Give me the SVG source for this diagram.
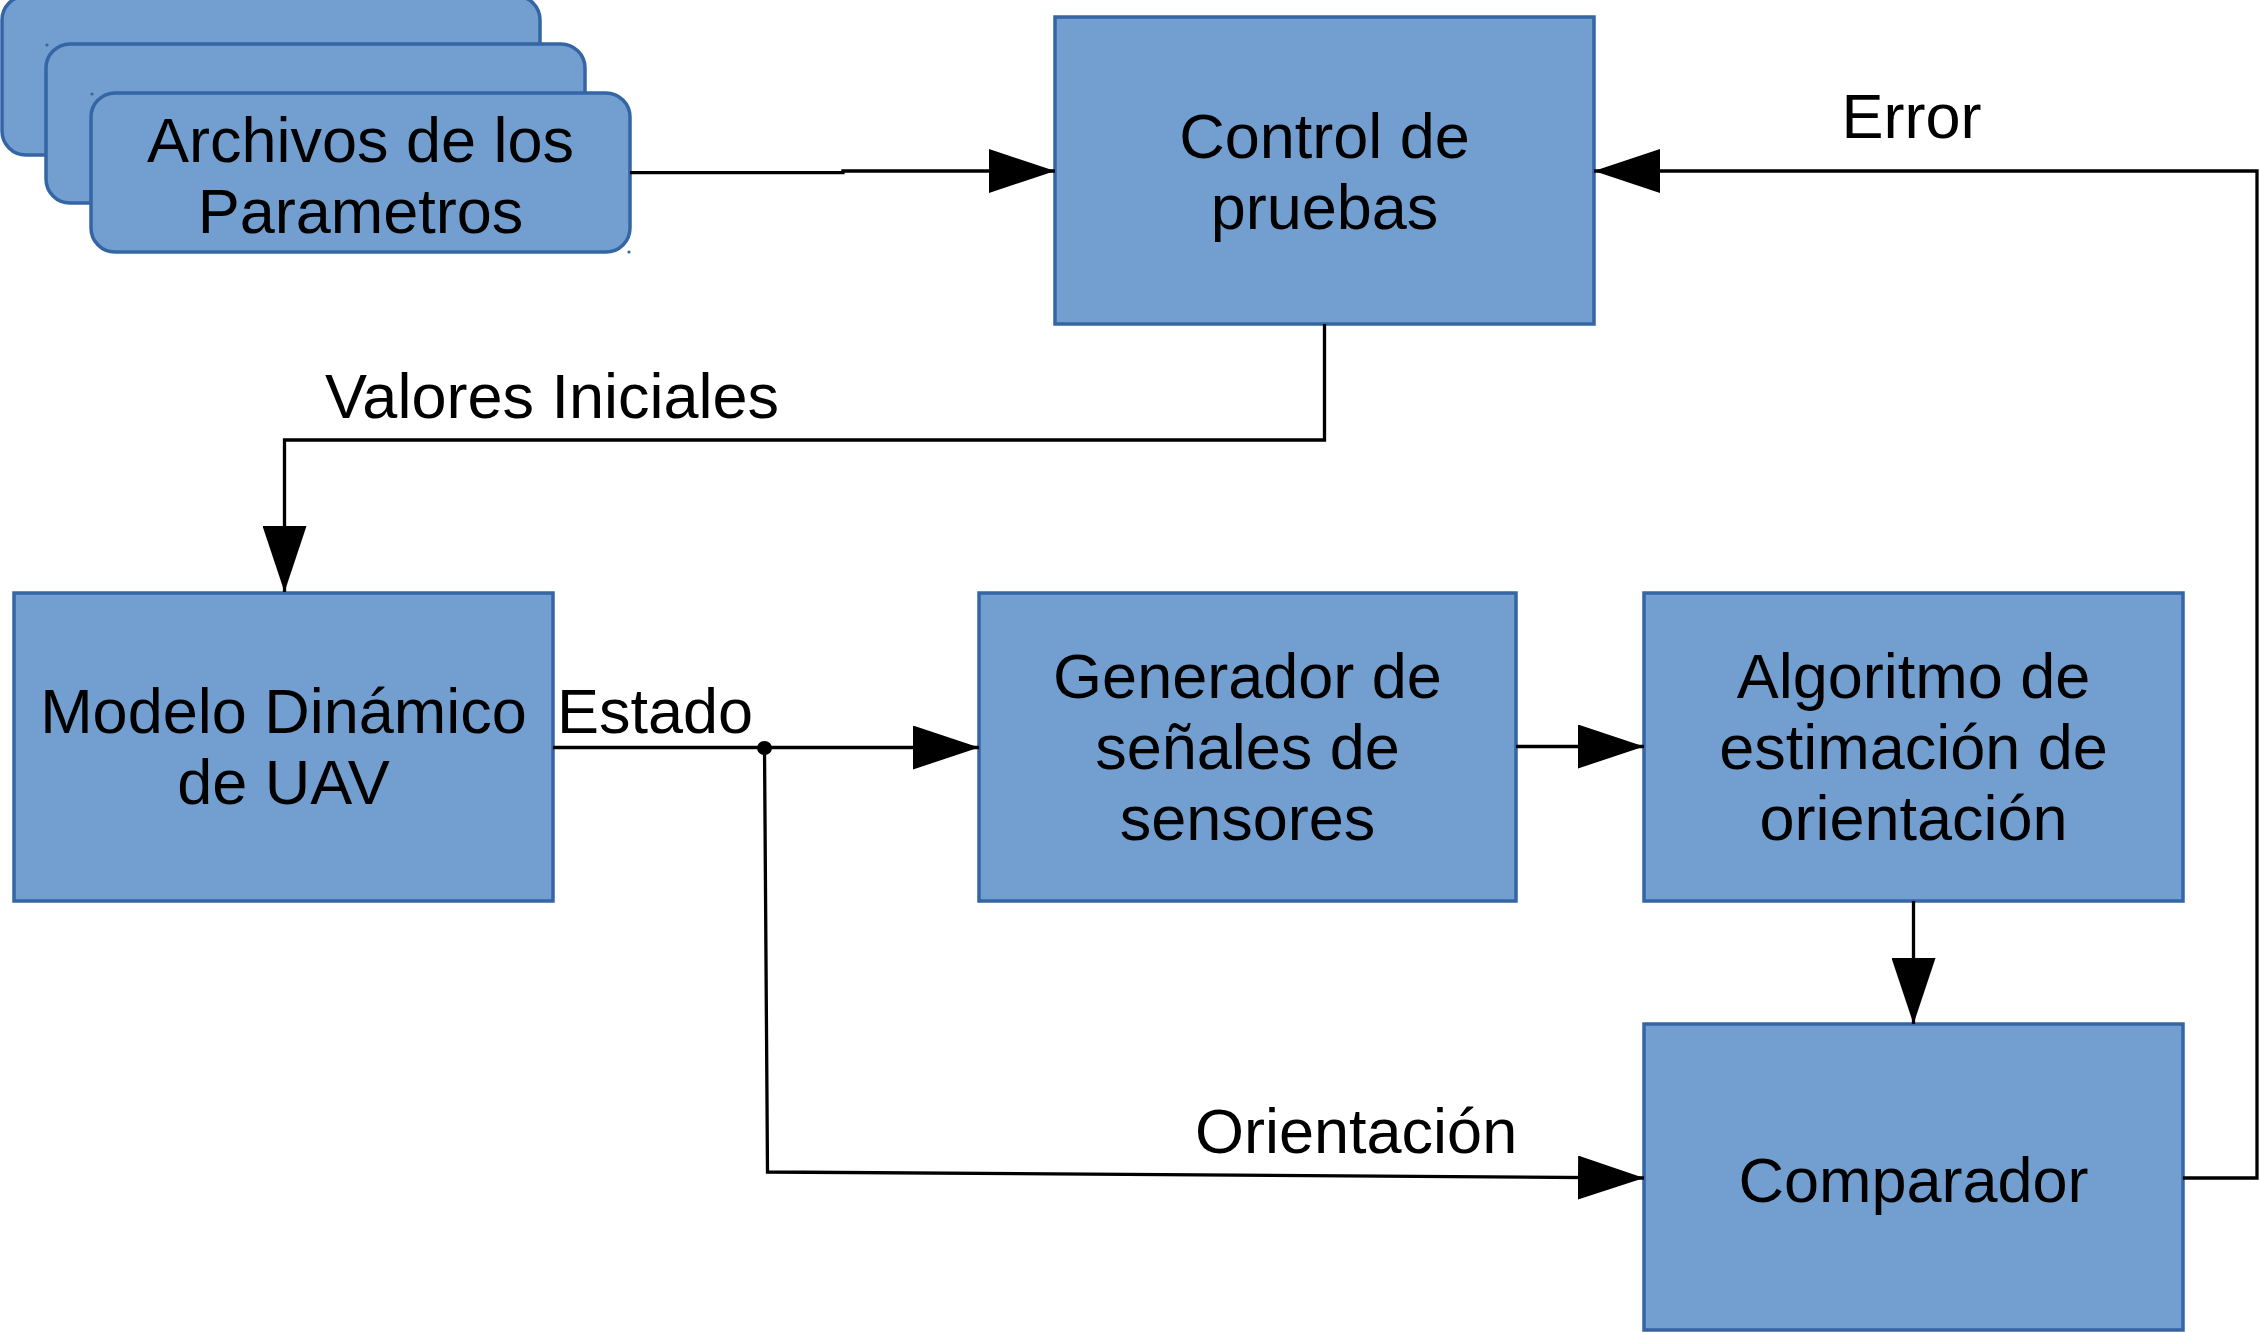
<svg xmlns="http://www.w3.org/2000/svg" width="2260" height="1332" viewBox="0 0 2260 1332">
  <style>
    .box { fill: #729fcf; stroke: #3465a4; stroke-width: 3.5; }
    .t { font-family: "Liberation Sans", Arial, sans-serif; font-size: 63px; fill: #000; }
    .c { text-anchor: middle; }
    .ln { fill: none; stroke: #000; stroke-width: 3.3; }
    .dot { fill: #3465a4; }
  </style>
  <defs>
    <marker id="arr" markerUnits="userSpaceOnUse" markerWidth="66" markerHeight="44" refX="66" refY="22" orient="auto" viewBox="0 0 66 44">
      <path d="M0,0 L66,22 L0,44 z" fill="#000"/>
    </marker>
  </defs>
  <rect width="2260" height="1332" fill="#fff"/>

  <g id="archivos">
    <rect class="box" x="2" y="-4" width="538" height="159" rx="24"/>
    <rect class="box" x="46" y="44" width="539" height="159" rx="24"/>
    <rect class="box" x="91" y="93" width="539" height="159" rx="24"/>
    <circle class="dot" cx="47" cy="45" r="1.6"/>
    <circle class="dot" cx="92" cy="94" r="1.6"/>
    <circle class="dot" cx="629" cy="252" r="1.6"/>
    <text class="t c" x="360.5" y="161.5">Archivos de los</text>
    <text class="t c" x="360.5" y="233">Parametros</text>
  </g>

  <g id="control">
    <rect class="box" x="1055" y="17" width="539" height="307"/>
    <text class="t c" x="1324.5" y="158">Control de</text>
    <text class="t c" x="1324.5" y="229">pruebas</text>
  </g>

  <g id="modelo">
    <rect class="box" x="14" y="593" width="539" height="308"/>
    <text class="t c" x="283.5" y="733">Modelo Dinámico</text>
    <text class="t c" x="283.5" y="804">de UAV</text>
  </g>

  <g id="generador">
    <rect class="box" x="979" y="593" width="537" height="308"/>
    <text class="t c" x="1247.5" y="698">Generador de</text>
    <text class="t c" x="1247.5" y="769">señales de</text>
    <text class="t c" x="1247.5" y="840">sensores</text>
  </g>

  <g id="algoritmo">
    <rect class="box" x="1644" y="593" width="539" height="308"/>
    <text class="t c" x="1913.5" y="698">Algoritmo de</text>
    <text class="t c" x="1913.5" y="769">estimación de</text>
    <text class="t c" x="1913.5" y="840">orientación</text>
  </g>

  <g id="comparador">
    <rect class="box" x="1644" y="1024" width="539" height="306"/>
    <text class="t c" x="1913.5" y="1202">Comparador</text>
  </g>

  <g id="connectors">
    <path class="ln" d="M630,172.7 H843 V171 H1055" marker-end="url(#arr)"/>
    <path class="ln" d="M1324.5,324 V440 H284.5 V592" marker-end="url(#arr)"/>
    <path class="ln" d="M553,747.5 H979" marker-end="url(#arr)"/>
    <path class="ln" d="M1516,746.5 H1644" marker-end="url(#arr)"/>
    <path class="ln" d="M1913.5,901 V1024" marker-end="url(#arr)"/>
    <path class="ln" d="M764.5,747.5 L767.5,1172 L1644,1178" marker-end="url(#arr)"/>
    <path class="ln" d="M2183,1178 H2257 V171 H1594" marker-end="url(#arr)"/>
    <ellipse cx="764.5" cy="748" rx="7.5" ry="7" fill="#000"/>
    <text class="t" x="325" y="418">Valores Iniciales</text>
    <text class="t" x="557" y="733">Estado</text>
    <text class="t" x="1195" y="1153">Orientación</text>
    <text class="t" x="1841.5" y="138">Error</text>
  </g>
</svg>
